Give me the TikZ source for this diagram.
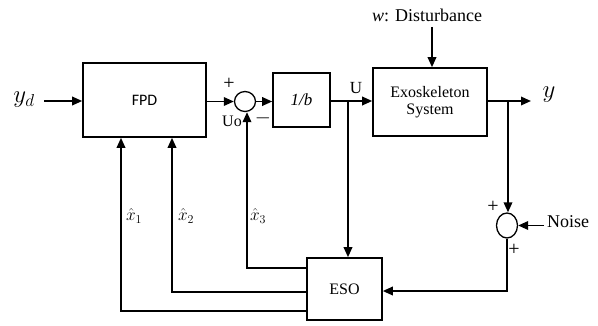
\documentclass[tikz,border=0pt]{standalone}
\usepackage{fontspec}
\setmainfont{Liberation Serif}
\newfontfamily\calfont{Carlito}
\usetikzlibrary{arrows.meta,shapes.geometric}
\begin{document}
\begin{tikzpicture}[x=1pt,y=-1pt,
  every node/.style={font=\fontsize{16}{19}\selectfont},
  big/.style={font=\fontsize{18}{21}\selectfont},
  sign/.style={font=\fontsize{20}{22}\selectfont},
  blk/.style={draw,line width=1.6pt,inner sep=0pt},
  sumc/.style={draw,ellipse,line width=1.3pt,inner sep=0pt},
  conn/.style={line width=1.8pt,-{Triangle[length=10pt,width=8.5pt]}},
  wire/.style={line width=1.8pt}]
\useasboundingbox (0,0) rectangle (598,325);
% blocks
\node[blk,minimum width=123pt,minimum height=74pt] (fpd) at (144.5,100) {\calfont FPD};
\node[sumc,minimum width=21pt,minimum height=20pt] (sum1) at (245,101.5) {};
\node[blk,minimum width=57pt,minimum height=54pt,font=\fontsize{17}{20}\selectfont] (invb) at (301.5,100) {\itshape 1/b};
\node[blk,minimum width=114pt,minimum height=68pt,align=center] (exo) at (430,102) {Exoskeleton\\[-2pt]System};
\node[blk,minimum width=75pt,minimum height=62pt] (eso) at (344.5,289) {ESO};
\node[sumc,minimum width=21pt,minimum height=25pt] (sum2) at (507,225.5) {};
% free labels
\node[font=\fontsize{23}{26}\selectfont] (yd) at (24,100) {$y_d$};
\node[big] (dist) at (427,15) {\textit{w}: Disturbance};
\node[font=\fontsize{23}{26}\selectfont] (yout) at (549,95) {$y$};
\node[big] (noise) at (568,222) {Noise};
\coordinate (ydend) at (44,101);
\coordinate (yend) at (531,101);
\coordinate (brU) at (348,101);
\coordinate (brY) at (508,101);
\coordinate (noisest) at (544,225.5);
% signs
\node[sign] at (229,84) {+};
\node[font=\fontsize{16}{18}\selectfont] at (232,121) {Uo};
\node[sign] at (263,118) {$-$};
\node[font=\fontsize{17}{20}\selectfont] at (356,88) {U};
\node[sign] at (493,207) {+};
\node[sign] at (514,250) {+};
\node[font=\fontsize{17}{20}\selectfont] at (134,216) {$\hat{x}_1$};
\node[font=\fontsize{17}{20}\selectfont] at (186,216) {$\hat{x}_2$};
\node[font=\fontsize{17}{20}\selectfont] at (258,216) {$\hat{x}_3$};
% connectors
\draw[conn] (ydend) -- (fpd.west |- ydend);
\draw[conn] (fpd.east |- sum1) -- (sum1.west);
\draw[conn] (sum1.east) -- (invb.west |- sum1);
\draw[conn] (invb.east |- brU) -- (exo.west |- brU);
\draw[conn] (brU) -- (brU |- eso.north);
\draw[conn] (dist.south -| 432,0) ++(0,2) -- (432,0 |- exo.north);
\draw[conn] (exo.east |- yend) -- (yend);
\draw[conn] (brY) -- (brY |- sum2.north);
\draw[conn] (noisest) -- (sum2.east);
\draw[conn] (sum2.south) -- (507,291) -- (eso.east |- 0,291);
\draw[conn] (eso.west |- 0,268) -- (247,268) -- (247,0 |- sum1.south);
\draw[conn] (eso.west |- 0,292) -- (172,292) -- (172,0 |- fpd.south);
\draw[conn] (eso.west |- 0,311) -- (121,311) -- (121,0 |- fpd.south);
\end{tikzpicture}
\end{document}
